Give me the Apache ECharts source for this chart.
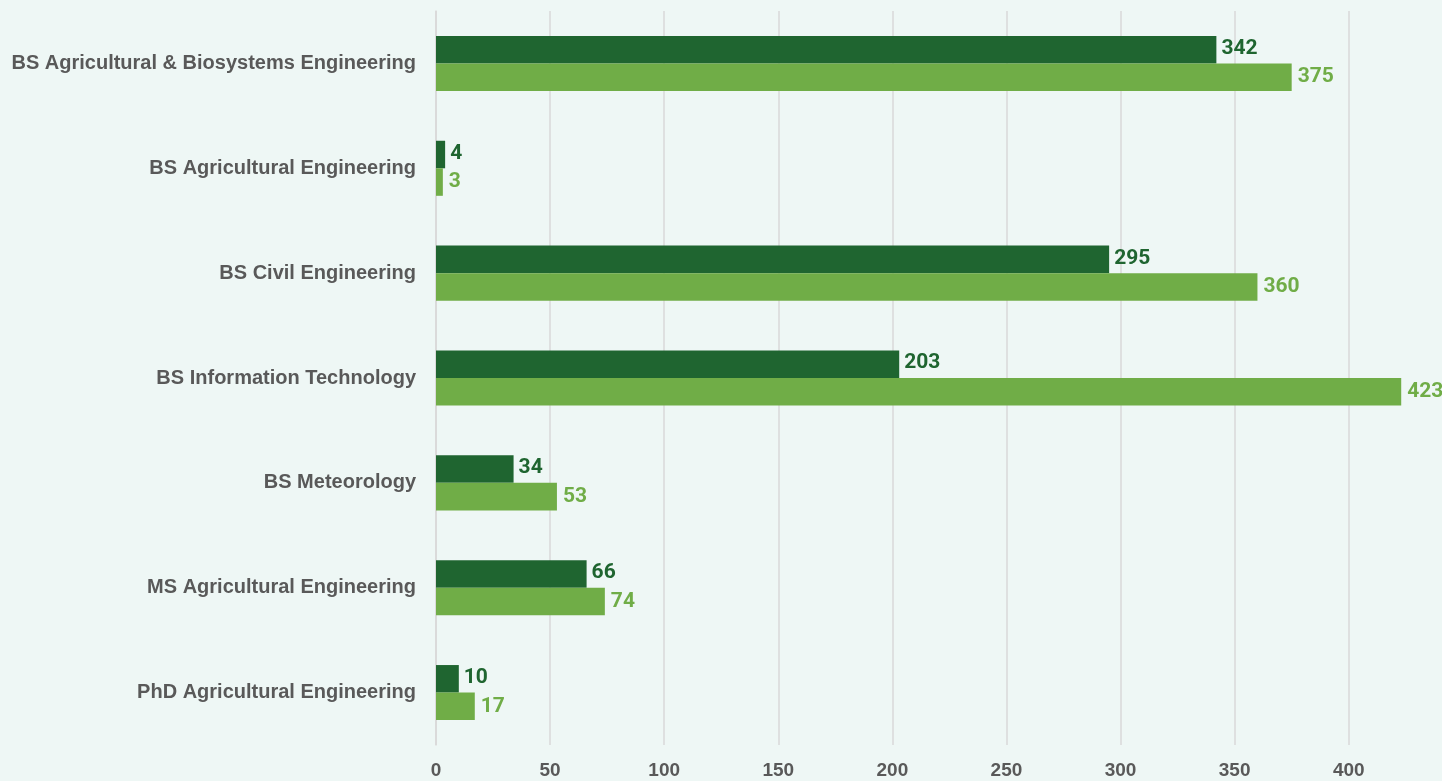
<!DOCTYPE html>
<html>
<head>
<meta charset="utf-8">
<script src="https://cdn.jsdelivr.net/npm/echarts@6/dist/echarts.min.js"></script>
<style>
html,body{margin:0;padding:0;background:#eef7f5;}
#chart{width:1442px;height:781px;}
</style>
</head>
<body>
<div id="chart"></div>
<script>
const categories = [
  "BS Agricultural & Biosystems Engineering",
  "BS Agricultural Engineering",
  "BS Civil Engineering",
  "BS Information Technology",
  "BS Meteorology",
  "MS Agricultural Engineering",
  "PhD Agricultural Engineering"
];
const seriesA = [342, 4, 295, 203, 34, 66, 10];
const seriesB = [375, 3, 360, 423, 53, 74, 17];
const xTicks = [0, 50, 100, 150, 200, 250, 300, 350, 400];

const darkGreen = '#1f6530';
const lightGreen = '#70ad47';
const valueFont = 'Roboto, "Liberation Sans", sans-serif';
const textFont = '"Liberation Sans", Arial, sans-serif';

const chart = echarts.init(document.getElementById('chart'));
chart.setOption({
  backgroundColor: '#eef7f5',
  animation: false,
  grid: { left: 436, right: 2, top: 11, bottom: 36, containLabel: false },
  xAxis: {
    type: 'value', min: 0, max: 440, interval: 50,
    axisLine: { show: false }, axisTick: { show: false },
    splitLine: { show: true, showMaxLine: false, lineStyle: { color: '#d9d9d9', width: 1.5 } },
    axisLabel: {
      showMaxLabel: false, margin: 16,
      color: '#595959', fontSize: 19, fontWeight: 'bold', fontFamily: textFont,
      formatter: v => xTicks.includes(v) ? String(v) : ''
    }
  },
  yAxis: {
    type: 'category', data: categories, inverse: true,
    axisLine: { show: true, lineStyle: { color: '#d9d9d9', width: 1.5 } },
    axisTick: { show: false },
    axisLabel: { color: '#595959', fontSize: 20, fontWeight: 'bold', fontFamily: textFont, margin: 20 }
  },
  series: [
    {
      type: 'bar', data: seriesA, barGap: '0%', barCategoryGap: '47.5%',
      itemStyle: { color: darkGreen },
      label: { show: true, position: 'right', distance: 5, offset: [0, -1], color: darkGreen, fontSize: 21, fontWeight: 'bold', fontFamily: valueFont }
    },
    {
      type: 'bar', data: seriesB, barGap: '0%', barCategoryGap: '47.5%',
      itemStyle: { color: lightGreen },
      label: { show: true, position: 'right', distance: 6, color: lightGreen, fontSize: 21, fontWeight: 'bold', fontFamily: valueFont }
    }
  ]
});
</script>
</body>
</html>
